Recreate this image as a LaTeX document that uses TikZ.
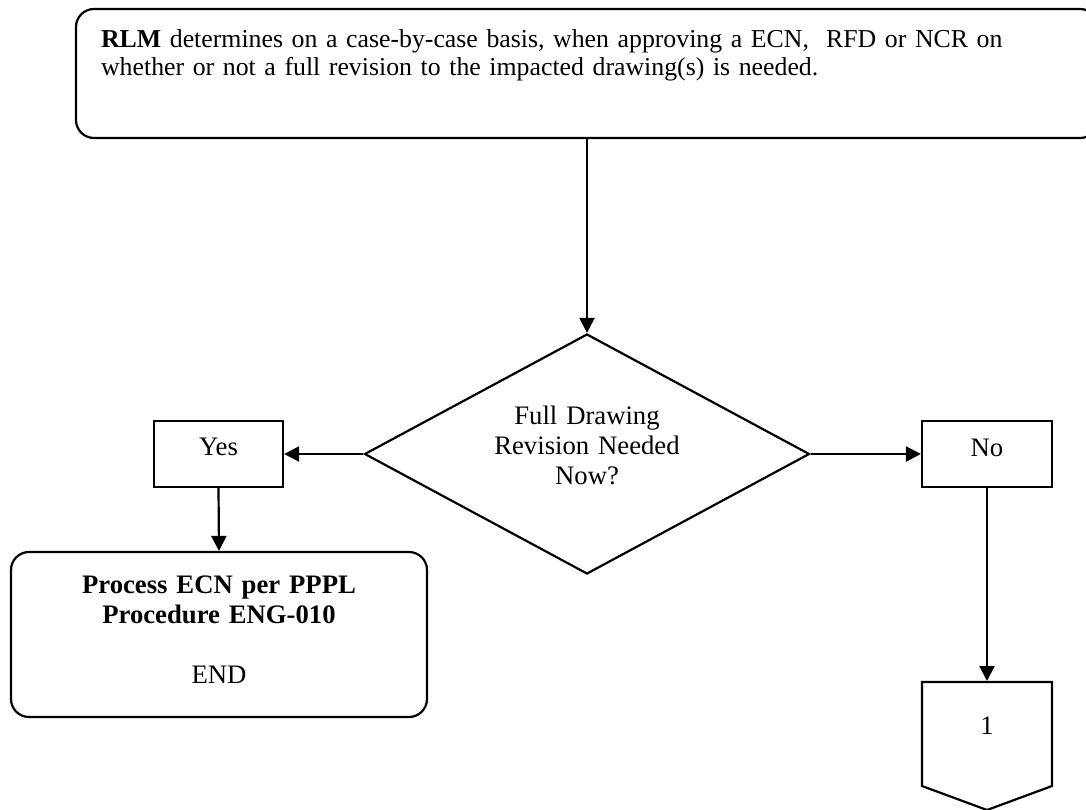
\documentclass[tikz,border=0pt]{standalone}
\usepackage{fontspec}
\setmainfont{Liberation Serif}
\usetikzlibrary{shapes.geometric,arrows.meta}
\begin{document}
\begin{tikzpicture}[x=1pt,y=-1pt,
  line width=2.2pt,
  every node/.style={font=\fontsize{26.7pt}{30pt}\selectfont},
  outline/.style={draw, line width=2.2pt, inner sep=0pt},
  roundbox/.style={outline, rectangle, rounded corners=18pt},
  plainbox/.style={outline, rectangle},
  decision/.style={outline, diamond},
  txt/.style={inner sep=0pt},
  flow/.style={-{Triangle[length=15pt,width=15pt]}}
]
\useasboundingbox (0,0) rectangle (1086,809);
\clip (0,0) rectangle (1086,809);

% shapes
\node[roundbox, minimum width=1022pt, minimum height=129pt] (top) at (587,73.5) {};
\node[decision, minimum width=445pt, minimum height=240pt] (dec) at (587,454) {};
\node[plainbox, minimum width=129pt, minimum height=66pt] (yes) at (218.5,454) {};
\node[plainbox, minimum width=130pt, minimum height=66pt] (no) at (987,454) {};
\node[roundbox, minimum width=416pt, minimum height=165pt] (proc) at (219,634.5) {};

% off-page connector
\draw (922,682) -- (1052,682) -- (1052,786) -- (987,810) -- (922,786) -- cycle;
\coordinate (off) at (987,681);

% texts
\node[txt, anchor=base west, text width=980pt, align=left,
      font=\fontsize{25.8pt}{28pt}\selectfont] (toptext) at (100,47)
  {\textbf{RLM} determines on a case-by-case basis, when approving a ECN,\ \ RFD or NCR on\\
   whether or not a full revision to the impacted drawing(s) is needed.};
\node[txt, anchor=base, text width=300pt, align=center] (dectext) at (587,424)
  {Full Drawing\\Revision Needed\\Now?};
\node[txt, anchor=base] (yestext) at (218.5,455) {Yes};
\node[txt, anchor=base] (notext) at (987,456) {No};
\node[txt, anchor=base, text width=400pt, align=center] (proctext) at (219,593)
  {\textbf{Process ECN per PPPL}\\\textbf{Procedure ENG-010}\\[30pt]END};
\node[txt, anchor=base] (offtext) at (987,734) {1};

% connectors
\draw[flow] (top.south) -- (dec.north);
\draw[flow] (dec.west) -- (yes.east);
\draw[flow] (dec.east) -- (no.west);
\draw[flow] (yes.south) -- (proc.north);
\draw[flow] (no.south) -- (off);
\end{tikzpicture}
\end{document}
